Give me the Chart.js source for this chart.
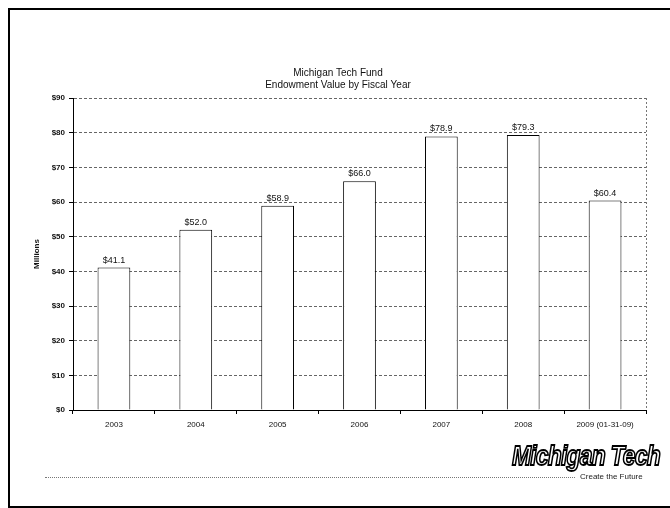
<!DOCTYPE html>
<html lang="en">
<head>
<meta charset="UTF-8">
<title>Michigan Tech Fund</title>
<script src="https://cdn.jsdelivr.net/npm/chart.js"></script>
<style>
  body { margin: 0; background: #fff; }
  .quadro { position: relative; width: 670px; height: 508px; }
  #grafico { position: absolute; left: 0; top: 0; }
  .moldura { position: absolute; left: 8px; top: 8px; width: 670px; height: 496px;
             border-left: 2px solid #000; border-top: 2px solid #000; border-bottom: 2px solid #000; }
  .logo { position: absolute; left: 512px; top: 440px; font-family: "Liberation Sans", Arial, sans-serif;
          font-weight: bold; font-style: italic; font-size: 28px; color: #fff; letter-spacing: -1px;
          -webkit-text-stroke: 1.8px #000; transform: scaleX(0.82); transform-origin: left top; white-space: nowrap; }
  .lema { position: absolute; left: 580px; top: 472px; font-family: "Liberation Sans", Arial, sans-serif;
          font-size: 8px; color: #222; }
  .linha { position: absolute; left: 45px; top: 477px; width: 530px; border-top: 1px dotted #777; }
</style>
</head>
<body>
<div class="quadro">
  <canvas id="grafico" width="670" height="508"></canvas>
  <div class="moldura"></div>
  <div class="linha"></div>
  <div class="logo">Michigan Tech</div>
  <div class="lema">Create the Future</div>
</div>

<script>
  // dados do gráfico
  const anos = ['2003', '2004', '2005', '2006', '2007', '2008', '2009 (01-31-09)'];
  const valores = [41.1, 52.0, 58.9, 66.0, 78.9, 79.3, 60.4];
  const rotulos = ['$41.1', '$52.0', '$58.9', '$66.0', '$78.9', '$79.3', '$60.4'];
  const titulo = ['Michigan Tech Fund', 'Endowment Value by Fiscal Year'];

  const fonte = '"Liberation Sans", Arial, sans-serif';

  // escreve o valor acima de cada barra
  const valoresNasBarras = {
    id: 'valoresNasBarras',
    afterDatasetsDraw(chart) {
      const ctx = chart.ctx;
      ctx.save();
      ctx.font = '9px ' + fonte;
      ctx.fillStyle = '#111';
      ctx.textAlign = 'center';
      ctx.textBaseline = 'bottom';
      chart.getDatasetMeta(0).data.forEach((barra, i) => {
        ctx.fillText(rotulos[i], barra.x, barra.y - 3);
      });
      ctx.restore();
    }
  };

  // linha pontilhada na borda direita da área do gráfico
  const bordaDireita = {
    id: 'bordaDireita',
    afterDraw(chart) {
      const a = chart.chartArea, ctx = chart.ctx;
      ctx.save();
      ctx.strokeStyle = '#777';
      ctx.setLineDash([2, 2]);
      ctx.beginPath();
      ctx.moveTo(a.right + 0.5, a.top);
      ctx.lineTo(a.right + 0.5, a.bottom);
      ctx.stroke();
      ctx.restore();
    }
  };

  new Chart(document.getElementById('grafico'), {
    type: 'bar',
    data: {
      labels: anos,
      datasets: [{
        data: valores,
        backgroundColor: '#fff',
        borderColor: '#000',
        borderWidth: 1,
        categoryPercentage: 1,
        barPercentage: 0.4
      }]
    },
    options: {
      responsive: false,
      animation: false,
      layout: { padding: { left: 30, right: 24, top: 0, bottom: 0 } },
      plugins: {
        legend: { display: false },
        tooltip: { enabled: false },
        title: {
          display: true,
          text: titulo,
          color: '#111',
          font: { family: fonte, size: 10, weight: 'normal', lineHeight: 1.2 },
          padding: { top: 67, bottom: 7 }
        }
      },
      scales: {
        x: {
          afterFit(escala) { escala.height = 98; },
          border: { color: '#000', width: 1 },
          grid: { display: true, drawOnChartArea: false, drawTicks: true, tickLength: 4, color: '#000' },
          ticks: { color: '#111', font: { family: fonte, size: 8 }, padding: 6, maxRotation: 0 }
        },
        y: {
          min: 0,
          max: 90,
          afterFit(escala) { escala.width = 43; },
          border: { color: '#000', width: 1, dash: [3, 2] },
          grid: { color: '#666', drawTicks: true, tickLength: 4, tickColor: '#000' },
          ticks: {
            stepSize: 10,
            color: '#111',
            padding: 4,
            font: { family: fonte, size: 8, weight: 'bold' },
            callback: v => '$' + v
          },
          title: { display: true, text: 'Millions', color: '#111', padding: 2,
                   font: { family: fonte, size: 8, weight: 'bold' } }
        }
      }
    },
    plugins: [valoresNasBarras, bordaDireita]
  });
</script>
</body>
</html>
